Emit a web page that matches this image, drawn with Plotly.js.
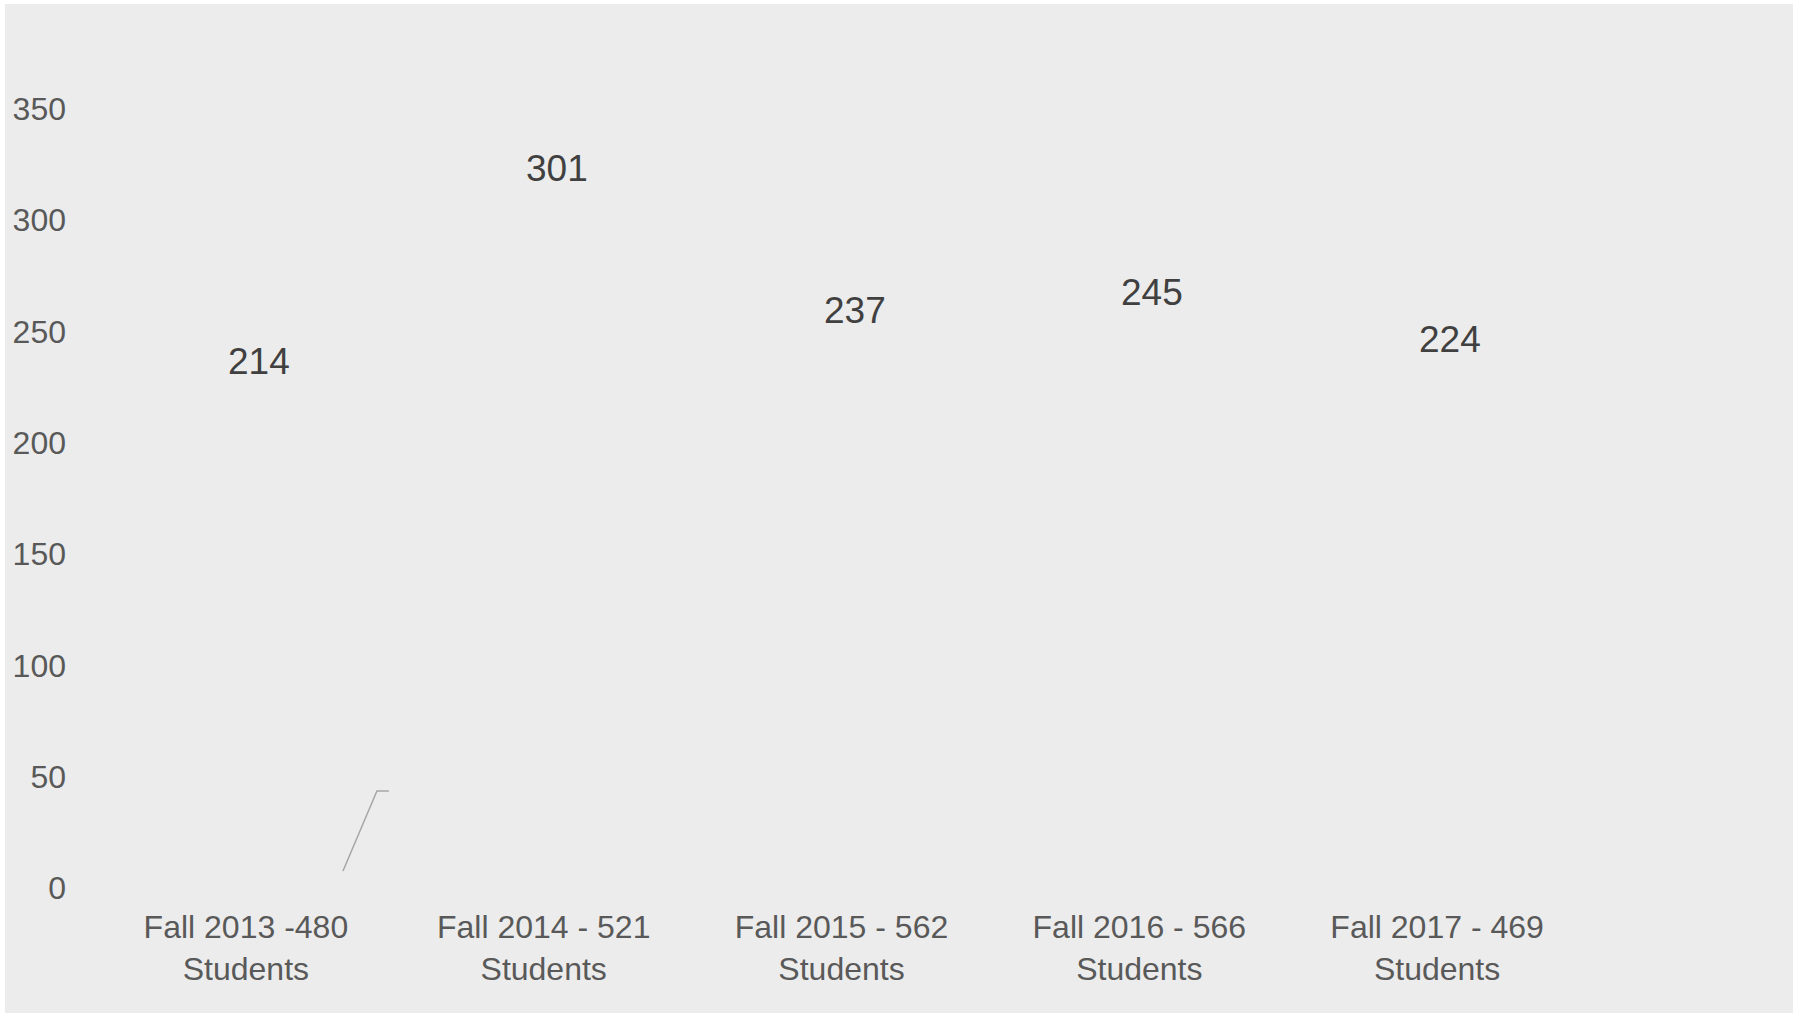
<!DOCTYPE html>
<html>
<head>
<meta charset="utf-8">
<script src="https://cdn.plot.ly/plotly-3.0.1.min.js"></script>
<style>
  html, body { margin: 0; padding: 0; background: #ffffff; }
  #chart { position: absolute; left: 5px; top: 4px; width: 1788px; height: 1009px; }
</style>
</head>
<body>
<div id="chart"></div>
<script>
// Data
const categories = [
  "Fall 2013 -480<br>Students",
  "Fall 2014 - 521<br>Students",
  "Fall 2015 - 562<br>Students",
  "Fall 2016 - 566<br>Students",
  "Fall 2017 - 469<br>Students"
];
const values = [214, 301, 237, 245, 224];
const yTicks = [0, 50, 100, 150, 200, 250, 300, 350];

const bg = "#ececec";

const trace = {
  type: "bar",
  x: categories,
  y: values,
  marker: { color: "rgba(0,0,0,0)" },
  hoverinfo: "x+y",
  showlegend: false
};

const labelAnnotations = categories.map((c, i) => ({
  x: c,
  y: values[i],
  xref: "x",
  yref: "y",
  text: String(values[i]),
  showarrow: false,
  xshift: 13,
  yshift: 50,
  xanchor: "center",
  yanchor: "middle",
  font: { family: "Liberation Sans, Arial, sans-serif", size: 37, color: "#404040" }
}));

const layout = {
  width: 1788,
  height: 1009,
  paper_bgcolor: bg,
  plot_bgcolor: bg,
  margin: { l: 92, r: 207, t: 105, b: 125 },
  font: { family: "Liberation Sans, Arial, sans-serif", color: "#595959" },
  showlegend: false,
  xaxis: {
    type: "category",
    showgrid: false,
    zeroline: false,
    showline: false,
    ticks: "",
    tickfont: { size: 32, color: "#595959" },
    ticklabelstandoff: 17
  },
  yaxis: {
    range: [0, 350],
    tickvals: yTicks,
    ticktext: yTicks.map(String),
    showgrid: false,
    zeroline: false,
    showline: false,
    ticks: "",
    tickfont: { size: 32, color: "#595959" },
    ticklabelstandoff: 30
  },
  annotations: labelAnnotations,
  shapes: [
    {
      type: "path",
      xref: "x",
      yref: "y",
      path: "M 0.326 7.6 L 0.44 43.6 L 0.48 43.6",
      line: { color: "#a6a6a6", width: 1.5 }
    }
  ]
};

Plotly.newPlot("chart", [trace], layout, { displayModeBar: false, staticPlot: true });
</script>
</body>
</html>
